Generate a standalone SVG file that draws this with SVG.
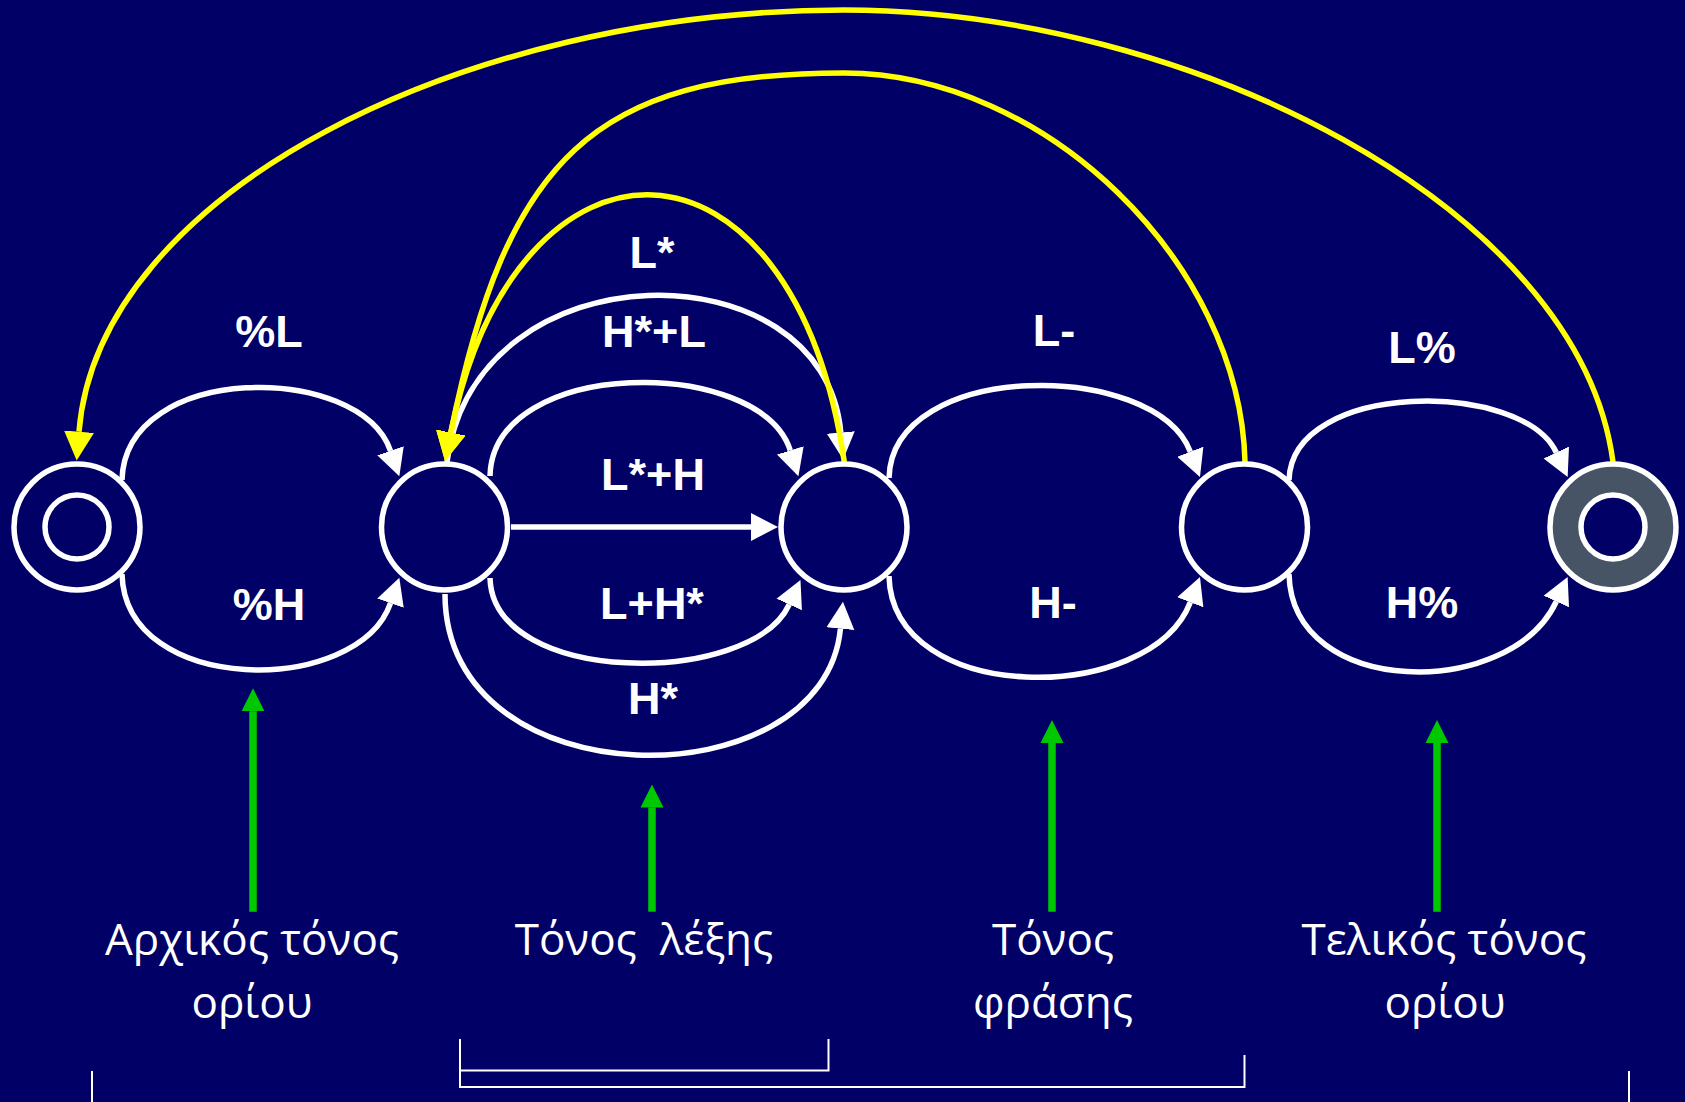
<svg xmlns="http://www.w3.org/2000/svg" width="1685" height="1102" viewBox="0 0 1685 1102">
  <defs>
    <style>
      .node-ring { fill: #000066; stroke: #ffffff; stroke-width: 5.5; }
      .node-final { fill: #465466; stroke: #ffffff; stroke-width: 5.5; }
      .edge { fill: none; stroke: #ffffff; stroke-width: 5.5; }
      .back { fill: none; stroke: #ffff00; stroke-width: 5.5; }
      .pointer { fill: none; stroke: #00c800; stroke-width: 7.5; }
      .bracket { fill: none; stroke: #ffffff; stroke-width: 2; }
      .lbl { font-family: "Liberation Sans", Arial, sans-serif; font-weight: bold; font-size: 45px; fill: #ffffff; text-anchor: middle; }
      .cap { font-family: "Open Sans", "Noto Sans", "DejaVu Sans", sans-serif; font-size: 44px; fill: #ffffff; text-anchor: middle; white-space: pre; }
    </style>
    <marker id="head-white" viewBox="0 -15 30 30" refX="0" refY="0" markerWidth="30" markerHeight="30" markerUnits="userSpaceOnUse" orient="auto">
      <path d="M0,-14 L27,0 L0,14 Z" fill="#ffffff"/>
    </marker>
    <marker id="head-yellow" viewBox="0 -16 32 32" refX="0" refY="0" markerWidth="32" markerHeight="32" markerUnits="userSpaceOnUse" orient="auto">
      <path d="M0,-15 L29,0 L0,15 Z" fill="#ffff00"/>
    </marker>
    <marker id="head-green" viewBox="0 -13 26 26" refX="0" refY="0" markerWidth="26" markerHeight="26" markerUnits="userSpaceOnUse" orient="auto">
      <path d="M0,-11.5 L23,0 L0,11.5 Z" fill="#00c800"/>
    </marker>
  </defs>

  <rect x="0" y="0" width="1685" height="1102" fill="#000066"/>

  <g id="connectors">
    <!-- initial boundary tone: node 0 -> node 1 -->
    <path class="edge" d="M122,480 C125,362 359.8,362 390.5,450.8" marker-end="url(#head-white)"/>
    <path class="edge" d="M122,574 C125,696.5 358.2,696.5 390.5,603.2" marker-end="url(#head-white)"/>

    <!-- pitch accents: node 1 -> node 2 -->
    <path class="edge" d="M447,462 C475,244.8 824.4,244.8 840.8,432.5" marker-end="url(#head-white)"/>
    <path class="edge" d="M490,476 C493,355.9 760.5,355.9 790.3,450.4" marker-end="url(#head-white)"/>
    <path class="edge" d="M511,527 L751,527" marker-end="url(#head-white)"/>
    <path class="edge" d="M490,578 C493,686.7 751.4,686.7 789.2,604.5" marker-end="url(#head-white)"/>
    <path class="edge" d="M445,594 C445,802.9 823.8,802.9 840.4,628.7" marker-end="url(#head-white)"/>

    <!-- phrase accents: node 2 -> node 3 -->
    <path class="edge" d="M889,478 C892,359.4 1154.9,359.4 1190.3,451.7" marker-end="url(#head-white)"/>
    <path class="edge" d="M889,576 C892,706.3 1150.4,706.3 1190.3,602.3" marker-end="url(#head-white)"/>

    <!-- final boundary tone: node 3 -> node 4 -->
    <path class="edge" d="M1289,480 C1292,380 1522.7,380 1556.3,452.5" marker-end="url(#head-white)"/>
    <path class="edge" d="M1289,574 C1292,699.5 1511,699.5 1556.3,601.5" marker-end="url(#head-white)"/>

    <!-- loops back -->
    <path class="back" d="M844.3,462 C792.8,110.8 516.4,110.8 450.8,432.6" marker-end="url(#head-yellow)"/>
    <path class="back" d="M1245,462 C1240,262 1044,73 844,73 C594,73 506.8,158.2 450.8,432.6" marker-end="url(#head-yellow)"/>
    <path class="back" d="M1613,462 C1579,205 1184,10 844,10 C464,10 98.4,192.4 79,431.7" marker-end="url(#head-yellow)"/>

    <!-- transition labels -->
    <text class="lbl" x="269" y="347">%L</text>
    <text class="lbl" x="269" y="620">%H</text>
    <text class="lbl" x="652" y="268">L*</text>
    <text class="lbl" x="654" y="347">H*+L</text>
    <text class="lbl" x="653" y="490">L*+H</text>
    <text class="lbl" x="652" y="619">L+H*</text>
    <text class="lbl" x="653" y="714">H*</text>
    <text class="lbl" x="1054" y="346">L-</text>
    <text class="lbl" x="1053" y="618">H-</text>
    <text class="lbl" x="1422" y="363">L%</text>
    <text class="lbl" x="1422" y="618">H%</text>
  </g>

  <g id="node-0">
    <circle class="node-ring" cx="77" cy="527" r="63"/>
    <circle class="node-ring" cx="77" cy="527" r="32"/>
  </g>
  <g id="node-1">
    <circle class="node-ring" cx="444.5" cy="527" r="63"/>
  </g>
  <g id="node-2">
    <circle class="node-ring" cx="844" cy="527" r="63"/>
  </g>
  <g id="node-3">
    <circle class="node-ring" cx="1244.5" cy="527" r="63"/>
  </g>
  <g id="node-4">
    <circle class="node-final" cx="1613" cy="527" r="63"/>
    <circle class="node-ring" cx="1613" cy="527" r="32"/>
  </g>

  <g id="pointers">
    <path class="pointer" d="M253,911.7 L253,711.3" marker-end="url(#head-green)"/>
    <path class="pointer" d="M652,911.7 L652,807.5" marker-end="url(#head-green)"/>
    <path class="pointer" d="M1052,911.7 L1052,743" marker-end="url(#head-green)"/>
    <path class="pointer" d="M1437,911.7 L1437,743" marker-end="url(#head-green)"/>
  </g>

  <g id="captions">
    <text class="cap" x="252" y="955">Αρχικός τόνος</text>
    <text class="cap" x="252" y="1018">ορίου</text>
    <text class="cap" x="644" y="955">Τόνος  λέξης</text>
    <text class="cap" x="1053" y="955">Τόνος</text>
    <text class="cap" x="1053" y="1018">φράσης</text>
    <text class="cap" x="1444" y="955">Τελικός τόνος</text>
    <text class="cap" x="1445" y="1018">ορίου</text>
  </g>

  <g id="brackets">
    <path class="bracket" d="M92,1071 L92,1102"/>
    <path class="bracket" d="M1629,1071 L1629,1102"/>
    <path class="bracket" d="M460,1039 L460,1070.5 L828.5,1070.5 L828.5,1039"/>
    <path class="bracket" d="M460,1070.5 L460,1087 L1244.5,1087 L1244.5,1055"/>
  </g>
</svg>
